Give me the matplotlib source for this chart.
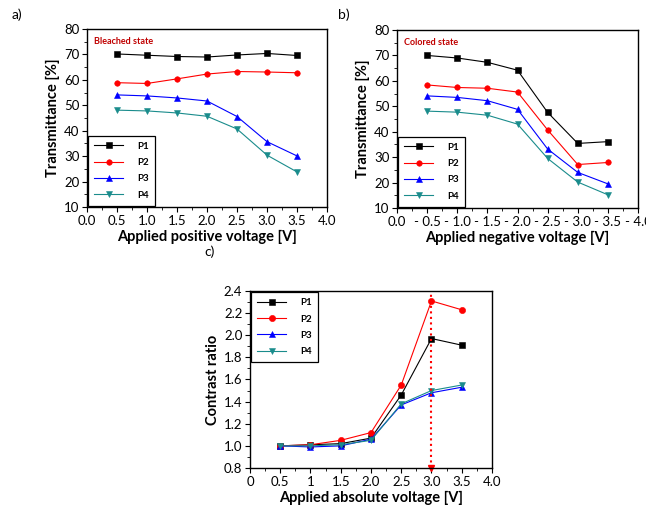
import matplotlib
matplotlib.use('Agg')
import matplotlib.pyplot as plt
from matplotlib.ticker import MultipleLocator, AutoMinorLocator

plt.rcParams['font.family'] = ['Lato', 'DejaVu Sans']

### data
volts = [0.5, 1.0, 1.5, 2.0, 2.5, 3.0, 3.5]
neg_volts = [-0.5, -1.0, -1.5, -2.0, -2.5, -3.0, -3.5]
labels = ['P1', 'P2', 'P3', 'P4']

bleached = {'P1': [70.2, 69.7, 69.2, 69.0, 69.8, 70.4, 69.6],
            'P2': [58.9, 58.6, 60.4, 62.3, 63.3, 63.1, 62.8],
            'P3': [54.1, 53.7, 52.9, 51.7, 45.6, 35.7, 30.1],
            'P4': [48.1, 47.8, 47.0, 45.7, 40.7, 30.4, 23.8]}

colored = {'P1': [70.0, 69.0, 67.3, 64.2, 47.6, 35.4, 36.1],
           'P2': [58.4, 57.4, 57.1, 55.6, 40.7, 27.1, 27.9],
           'P3': [54.1, 53.5, 52.2, 48.8, 33.2, 24.0, 19.5],
           'P4': [48.1, 47.7, 46.5, 43.0, 29.5, 20.2, 15.2]}

contrast = {'P1': [1.00, 1.01, 1.02, 1.07, 1.46, 1.97, 1.91],
            'P2': [1.00, 1.01, 1.05, 1.12, 1.55, 2.31, 2.23],
            'P3': [1.00, 0.99, 1.00, 1.06, 1.37, 1.48, 1.53],
            'P4': [1.00, 1.00, 1.01, 1.05, 1.38, 1.50, 1.55]}

peak_voltage = 3.0

pos_ticks = [0.0, 0.5, 1.0, 1.5, 2.0, 2.5, 3.0, 3.5, 4.0]
pos_ticklabels = ['0.0', '0.5', '1.0', '1.5', '2.0', '2.5', '3.0', '3.5', '4.0']
neg_ticks = [0.0, -0.5, -1.0, -1.5, -2.0, -2.5, -3.0, -3.5, -4.0]
neg_ticklabels = ['0.0', '- 0.5', '- 1.0', '- 1.5', '- 2.0', '- 2.5', '- 3.0', '- 3.5', '- 4.0']
abs_ticklabels = ['0', '0.5', '1', '1.5', '2.0', '2.5', '3.0', '3.5', '4.0']

colors = {'P1': 'black', 'P2': '#ff0000', 'P3': '#0000ff', 'P4': '#1a8c8c'}
markers = {'P1': 's', 'P2': 'o', 'P3': '^', 'P4': 'v'}


def style(ax):
    for sp in ax.spines.values():
        sp.set_linewidth(1.0)
    ax.tick_params(which='major', direction='out', length=3.5, width=0.8, labelsize=9.5, pad=2)
    ax.tick_params(which='minor', direction='out', length=2, width=0.6)
    ax.xaxis.set_minor_locator(AutoMinorLocator(2))
    ax.yaxis.set_minor_locator(AutoMinorLocator(2))


def draw(ax, X, data, ms=4.0):
    for p in labels:
        ax.plot(X, data[p], color=colors[p], marker=markers[p], lw=0.8, ms=ms,
                markeredgewidth=0.4, label=p)


def legend(ax, loc):
    leg = ax.legend(loc=loc, prop={'size': 7, 'weight': 'bold'}, handlelength=3.0,
                    handletextpad=1.4, borderpad=0.6, labelspacing=0.75, fancybox=False,
                    edgecolor='black', framealpha=1, borderaxespad=0.15)
    leg.get_frame().set_linewidth(0.9)


def labels_xy(ax, xl, yl):
    ax.set_xlabel(xl, fontsize=10.5, fontweight='bold', labelpad=2)
    ax.set_ylabel(yl, fontsize=10.5, fontweight='bold', labelpad=3)


fig = plt.figure(figsize=(6.46, 5.15), dpi=100)

### a) bleached
ax = fig.add_axes([0.1347, 0.598, 0.3715, 0.3456])
draw(ax, volts, bleached)
ax.set_xlim(0, 4.0)
ax.set_ylim(10, 80)
ax.set_xticks(pos_ticks)
ax.set_xticklabels(pos_ticklabels)
ax.yaxis.set_major_locator(MultipleLocator(10))
style(ax)
labels_xy(ax, 'Applied positive voltage [V]', 'Transmittance [%]')
ax.text(0.03, 0.93, 'Bleached state', transform=ax.transAxes, color='#c00000',
        fontsize=6.5, fontweight='bold', va='center')
legend(ax, 'lower left')
fig.text(12 / 646, 1 - 15 / 515, 'a)', fontsize=10, va='center')

### b) colored
ax = fig.add_axes([0.6146, 0.5961, 0.373, 0.3456])
draw(ax, neg_volts, colored)
ax.set_xlim(0, -4.0)
ax.set_ylim(10, 80)
ax.set_xticks(neg_ticks)
ax.set_xticklabels(neg_ticklabels)
ax.yaxis.set_major_locator(MultipleLocator(10))
style(ax)
labels_xy(ax, 'Applied negative voltage [V]', 'Transmittance [%]')
ax.text(0.03, 0.93, 'Colored state', transform=ax.transAxes, color='#c00000',
        fontsize=6.5, fontweight='bold', va='center')
legend(ax, 'lower left')
fig.text(338 / 646, 1 - 15 / 515, 'b)', fontsize=10, va='center')

### c) contrast ratio
ax = fig.add_axes([0.387, 0.0913, 0.3746, 0.3437])
draw(ax, volts, contrast, ms=4.5)
ax.axvline(peak_voltage, color='#ff0000', ls=':', lw=1.5)
ax.plot([peak_voltage], [0.8], marker='v', color='#ff0000', ms=5, clip_on=False)
ax.set_xlim(0, 4.0)
ax.set_ylim(0.8, 2.4)
ax.set_xticks(pos_ticks)
ax.set_xticklabels(abs_ticklabels)
ax.yaxis.set_major_locator(MultipleLocator(0.2))
ax.yaxis.set_major_formatter(plt.FormatStrFormatter('%.1f'))
style(ax)
labels_xy(ax, 'Applied absolute voltage [V]', 'Contrast ratio')
legend(ax, 'upper left')
fig.text(204 / 646, 1 - 252 / 515, 'c)', fontsize=10, va='center')

fig.savefig('out.png', dpi=100)
